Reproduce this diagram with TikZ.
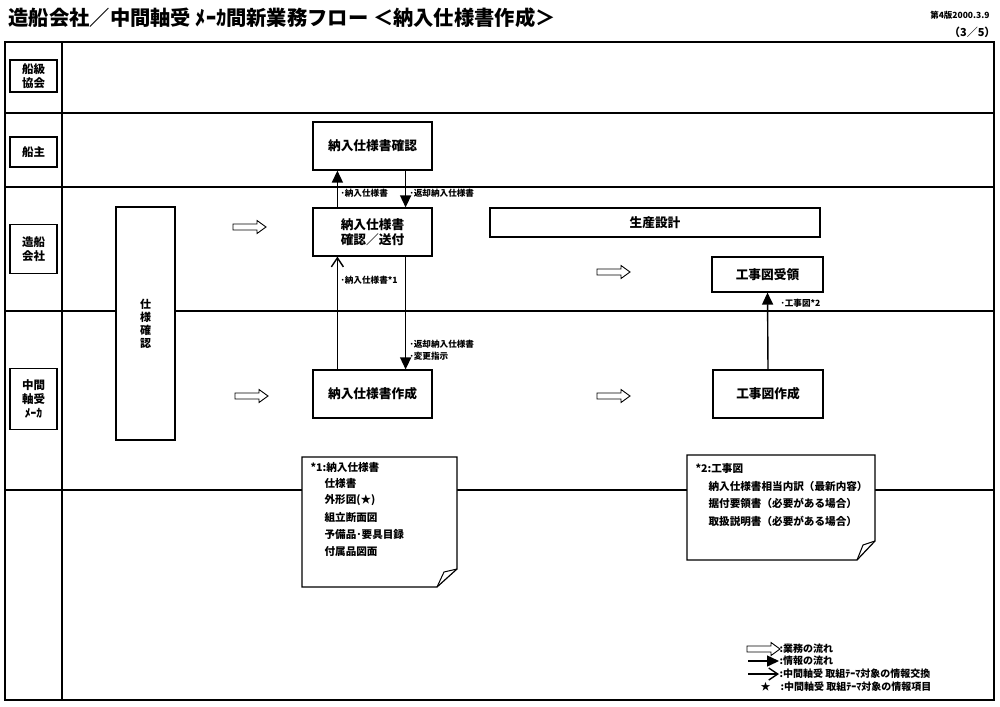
\documentclass[tikz,border=0pt]{standalone}
\usepackage{fontspec}
\setmainfont{Noto Sans CJK JP}
\usetikzlibrary{arrows.meta,calc}

\begin{document}
\begin{tikzpicture}[x=1pt,y=-1pt,line width=1.1pt,
  box/.style={draw,line width=1.2pt,fill=white,align=center,inner sep=0pt,
    font=\bfseries\fontsize{12.7}{15.5}\selectfont},
  lane/.style={draw,line width=1.1pt,align=center,inner sep=0pt,minimum width=47pt,
    font=\bfseries\fontsize{11.5}{14}\selectfont},
  lbl/.style={anchor=west,inner sep=0pt,font=\bfseries\fontsize{8.6}{10}\selectfont},
  notetxt/.style={anchor=west,inner sep=0pt,font=\bfseries\fontsize{10.6}{12}\selectfont},
  legtxt/.style={anchor=west,inner sep=0pt,font=\bfseries\fontsize{10}{11}\selectfont},
  info/.style={line width=1.4pt,-{Triangle[length=12pt,width=11pt]}},
  xchg/.style={line width=1.4pt,-{Straight Barb[length=9pt,width=12pt]}},
  note/.style={line width=1.2pt,fill=white},
  flow/.pic={\draw[line width=0.9pt,fill=white] (0,-3) -- (24,-3) -- (24,-6.5) -- (33,0)
    -- (24,6.5) -- (24,3) -- (0,3) -- cycle;}
]
\useasboundingbox (0,0) rectangle (1000,706);

% title
\node[anchor=west,inner sep=0pt,font=\bfseries\fontsize{20.3}{23}\selectfont] (title) at (8,18)
  {造船会社／中間軸受 ﾒｰｶ間新業務フロー ＜納入仕様書作成＞};
\node[anchor=east,inner sep=0pt,font=\bfseries\fontsize{8.5}{10}\selectfont] (ver) at (990,15) {第4版2000.3.9};
\node[anchor=east,inner sep=0pt,font=\bfseries\fontsize{11}{13}\selectfont] (page) at (996,32) {（3／5）};

% frame and lanes
\draw[line width=1.5pt] (5,42) rectangle (994,700);
\draw (62,42) -- (62,700);
\foreach \y in {113,187,311,490}
  \draw (5,\y) -- (994,\y);

\node[lane,minimum height=32pt] (kyokai) at (33.5,76) {船級\\協会};
\node[lane,minimum height=30pt] (senshu) at (33.5,152) {船主};
\node[lane,minimum height=49pt] (zosen) at (33.5,249) {造船\\会社};
\node[lane,line width=1.6pt,minimum height=61pt] (maker) at (33.5,399) {中間\\軸受\\ﾒｰｶ};

% boxes
\node[box,minimum width=59pt,minimum height=233pt,font=\bfseries\fontsize{11}{13}\selectfont]
  (shiyo) at (145.5,323.5) {仕\\様\\確\\認};
\node[box,minimum width=119pt,minimum height=48pt] (kakunin) at (372.5,146) {納入仕様書確認};
\node[box,minimum width=119pt,minimum height=48pt] (soufu) at (372.5,232) {納入仕様書\\確認／送付};
\node[box,minimum width=119pt,minimum height=48pt] (sakusei) at (372.5,394) {納入仕様書作成};
\node[box,minimum width=330pt,minimum height=29pt] (seisan) at (655,222.5) {生産設計};
\node[box,minimum width=111pt,minimum height=35pt] (juryo) at (767.5,274.5) {工事図受領};
\node[box,minimum width=110pt,minimum height=48pt] (kojizu) at (768,394) {工事図作成};

% work flow
\pic at (233,227) {flow};
\pic at (235,396) {flow};
\pic at (597,272) {flow};
\pic at (597,396) {flow};

% information
\draw[info] ([xshift=25pt]soufu.north west) -- ([xshift=25pt]kakunin.south west);
\draw[info] ([xshift=-27pt]kakunin.south east) -- ([xshift=-27pt]soufu.north east);
\draw[xchg] ([xshift=25pt]sakusei.north west) -- ([xshift=25pt]soufu.south west);
\draw[info] ([xshift=-27pt]soufu.south east) -- ([xshift=-27pt]sakusei.north east);
\draw[info] (kojizu.north) -- (juryo.north |- juryo.south);

\node[lbl] (l1) at (340,193) {･納入仕様書};
\node[lbl] (l2) at (409,193) {･返却納入仕様書};
\node[lbl] (l3) at (340,280) {･納入仕様書*1};
\node[lbl] (l4) at (409,344) {･返却納入仕様書};
\node[lbl] (l5) at (409,356) {･変更指示};
\node[lbl] (l6) at (780,303) {･工事図*2};

% notes
\draw[note] (302,457) -- (457,457) -- (457,569) -- (437,587) -- (302,587) -- cycle;
\draw[line width=1pt] (437,587) -- (444,572) -- (457,569);
\node[notetxt] (n1) at (310,467) {*1:納入仕様書};
\foreach \t [count=\i] in {仕様書,外形図(★),組立断面図,予備品･要具目録,付属品図面}
  \node[notetxt] (n1-\i) at (324,466+17.2*\i) {\t};

\draw[note] (687,455) -- (875,455) -- (875,541) -- (857,560) -- (687,560) -- cycle;
\draw[line width=1pt] (857,560) -- (863,545) -- (875,541);
\node[notetxt] (n2) at (695,468) {*2:工事図};
\foreach \t [count=\i] in {納入仕様書相当内訳（最新内容）,据付要領書（必要がある場合）,取扱説明書（必要がある場合）}
  \node[notetxt] (n2-\i) at (708,469+17.3*\i) {\t};

% legend
\pic at (747,649) {flow};
\node[legtxt] (g1) at (779,649) {:業務の流れ};
\coordinate (g2s) at (748,661);
\node[legtxt] (g2) at (779,661) {:情報の流れ};
\draw[info] (g2s) -- (g2.west);
\coordinate (g3s) at (748,674);
\node[legtxt] (g3) at (779,674) {:中間軸受 取組ﾃｰﾏ対象の情報交換};
\draw[xchg] (g3s) -- (g3.west);
\node[legtxt] (g4s) at (760,687) {★};
\node[legtxt] (g4) at (780,687) {:中間軸受 取組ﾃｰﾏ対象の情報項目};
\end{tikzpicture}
\end{document}
